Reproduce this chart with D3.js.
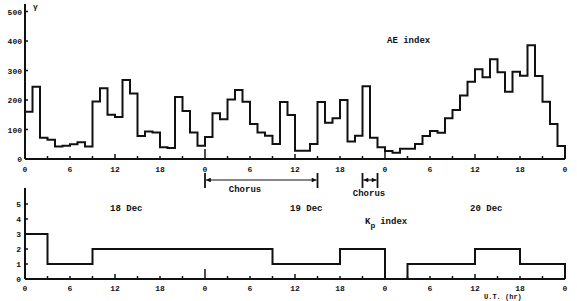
<!DOCTYPE html>
<html>
<head>
<meta charset="utf-8">
<script src="https://cdn.jsdelivr.net/npm/d3@7"></script>
<style>
  body { margin: 0; background: #fff; }
  svg text { font-family: "Liberation Mono", "DejaVu Sans Mono", monospace; font-weight: bold; fill: #111; }
</style>
</head>
<body>
<svg id="chart" width="577" height="301"></svg>
<script>
// hourly AE index (gamma), 18-20 Dec
const aeValues = [
  160, 245, 72, 65, 42, 45, 50, 57, 42, 195, 240, 150, 142, 268, 222, 78, 93, 90, 40, 37, 210, 163, 90, 45,
  75, 155, 135, 202, 234, 194, 119, 90, 79, 51, 193, 149, 28, 28, 51, 193, 123, 138, 200, 59, 79, 247, 72, 40,
  27, 21, 35, 35, 51, 78, 95, 89, 138, 166, 215, 262, 304, 277, 338, 294, 228, 296, 282, 386, 281, 194, 119, 44
];
// Kp steps: start hour and value
const kpStart = [0, 3, 9, 33, 42, 48, 51, 60, 66];
const kpValue = [3, 1, 2, 1, 2, 0, 1, 2, 1];
const aeTicks = [0, 100, 200, 300, 400, 500];
const kpTicks = [0, 1, 2, 3, 4, 5];
const dayLabels = ["18 Dec", "19 Dec", "20 Dec"];
const chorusRanges = [[24, 39], [45, 47]];

const svg = d3.select("#chart");

const x = d3.scaleLinear().domain([0, 72]).range([25, 565]);
const yAE = d3.scaleLinear().domain([0, 500]).range([159, 11.5]);
const yKp = d3.scaleLinear().domain([0, 5]).range([279, 204]);

const hours = d3.range(0, 73, 3);

// tick length by hour position
function tickLen(h) {
  if (h % 24 === 0 && h > 0 && h < 72) return 10;
  if (h % 12 === 0) return 5;
  return 3;
}

function drawXAxis(y0, labelY) {
  svg.append("line")
    .attr("x1", x(0)).attr("x2", x(72))
    .attr("y1", y0).attr("y2", y0)
    .attr("stroke", "#111").attr("stroke-width", 2);
  svg.append("g").selectAll("line")
    .data(hours)
    .enter().append("line")
    .attr("x1", d => x(d)).attr("x2", d => x(d))
    .attr("y1", y0).attr("y2", d => y0 - tickLen(d))
    .attr("stroke", "#111").attr("stroke-width", 1.5);
  svg.append("g").selectAll("text")
    .data(d3.range(0, 73, 6))
    .enter().append("text")
    .attr("x", d => x(d))
    .attr("y", labelY)
    .attr("text-anchor", "middle")
    .style("font-size", "8px")
    .text(d => d % 24);
}

function drawYAxis(scale, ticks, top, labelX) {
  svg.append("line")
    .attr("x1", x(0)).attr("x2", x(0))
    .attr("y1", scale(0)).attr("y2", top)
    .attr("stroke", "#111").attr("stroke-width", 2);
  svg.append("g").selectAll("line")
    .data(ticks)
    .enter().append("line")
    .attr("x1", x(0)).attr("x2", x(0) + 3)
    .attr("y1", d => scale(d)).attr("y2", d => scale(d))
    .attr("stroke", "#111").attr("stroke-width", 1.5);
  svg.append("g").selectAll("text")
    .data(ticks)
    .enter().append("text")
    .attr("x", labelX)
    .attr("y", d => scale(d) + 3)
    .attr("text-anchor", "end")
    .style("font-size", "8px")
    .text(d => d);
}

// AE panel
drawYAxis(yAE, aeTicks, 4, 22);
drawXAxis(159, 172);

const aePts = [[0, 0]].concat(aeValues.map((v, i) => [i, v]), [[72, aeValues[71]], [72, 0]]);
const aeLine = d3.line()
  .x(d => x(d[0]))
  .y(d => yAE(d[1]))
  .curve(d3.curveStepAfter);
svg.append("path")
  .attr("d", aeLine(aePts))
  .attr("fill", "none")
  .attr("stroke", "#111")
  .attr("stroke-width", 2);

svg.append("text").attr("x", 33).attr("y", 9).style("font-size", "8px").text("γ");
svg.append("text").attr("x", 387).attr("y", 43).style("font-size", "9px").text("AE index");

// chorus markers
const defs = svg.append("defs");
["start", "end"].forEach(k => {
  defs.append("marker")
    .attr("id", "arr-" + k)
    .attr("viewBox", "0 0 10 10")
    .attr("refX", k === "end" ? 10 : 0).attr("refY", 5)
    .attr("markerWidth", 6).attr("markerHeight", 4)
    .attr("orient", "auto")
    .append("path")
    .attr("d", k === "end" ? "M0,0L10,5L0,10Z" : "M10,0L0,5L10,10Z")
    .attr("fill", "#111");
});
chorusRanges.forEach((r, i) => {
  const g = svg.append("g");
  [r[0], r[1]].forEach(h => {
    g.append("line")
      .attr("x1", x(h)).attr("x2", x(h))
      .attr("y1", 173).attr("y2", 188)
      .attr("stroke", "#111").attr("stroke-width", 1.8);
  });
  g.append("line")
    .attr("x1", x(r[0]) + 1).attr("x2", x(r[1]) - 1)
    .attr("y1", 180).attr("y2", 180)
    .attr("stroke", "#111").attr("stroke-width", 1.2)
    .attr("marker-start", "url(#arr-start)")
    .attr("marker-end", "url(#arr-end)");
  g.append("text")
    .attr("x", i === 0 ? 245 : 369)
    .attr("y", i === 0 ? 192 : 196)
    .attr("text-anchor", "middle")
    .style("font-size", "9px")
    .text("Chorus");
});

// day labels
svg.append("g").selectAll("text")
  .data(dayLabels)
  .enter().append("text")
  .attr("x", (d, i) => x(i * 24 + 13.5))
  .attr("y", 211)
  .attr("text-anchor", "middle")
  .style("font-size", "9px")
  .text(d => d);

// Kp panel
drawYAxis(yKp, kpTicks, 188, 21);
drawXAxis(279, 291);

const kpPts = [[0, 0]].concat(kpStart.map((s, i) => [s, kpValue[i]]), [[72, kpValue[kpValue.length - 1]], [72, 0]]);
const kpLine = d3.line()
  .x(d => x(d[0]))
  .y(d => yKp(d[1]))
  .curve(d3.curveStepAfter);
svg.append("path")
  .attr("d", kpLine(kpPts))
  .attr("fill", "none")
  .attr("stroke", "#111")
  .attr("stroke-width", 2);

const kpLabel = svg.append("text").attr("x", 365).attr("y", 224).style("font-size", "9px");
kpLabel.append("tspan").text("K");
kpLabel.append("tspan").attr("dy", 4).style("font-size", "8px").text("p");
kpLabel.append("tspan").attr("dy", -4).attr("dx", 5).text("index");

svg.append("text").attr("x", 484).attr("y", 299).style("font-size", "7px").text("U.T. (hr)");
</script>
</body>
</html>
